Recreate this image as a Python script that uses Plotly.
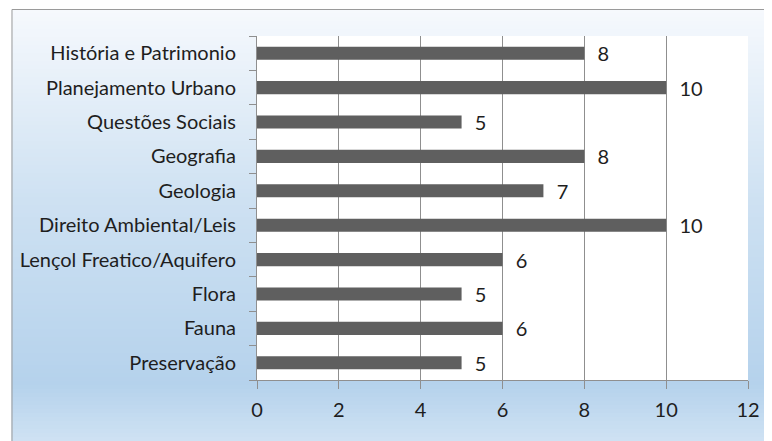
import plotly.graph_objects as go

categories = ["Preservação", "Fauna", "Flora", "Lençol Freatico/Aquifero",
              "Direito Ambiental/Leis", "Geologia", "Geografia",
              "Questões Sociais", "Planejamento Urbano", "História e Patrimonio"]
values = [5, 6, 5, 6, 10, 7, 8, 5, 10, 8]
x_ticks = [0, 2, 4, 6, 8, 10, 12]

# the page puts the figure 8px in from the top-left corner
OFF = 8
W, H = 772 - OFF, 441 - OFF
ML, MR, MT, MB = 256 - OFF, 20, 36 - OFF, 61
pw, ph = W - ML - MR, H - MT - MB


def px_to_paper(px, py):
    # px, py are page pixels
    return (px - OFF - ML) / pw, (H - MB - (py - OFF)) / ph


def lerp(c1, c2, t):
    return tuple(round(a + (b - a) * t) for a, b in zip(c1, c2))


# outer gradient panel (Excel-style), built from thin bands
stops = [(9, (246, 249, 253)), (200, (206, 225, 242)),
         (385, (181, 210, 236)), (441, (207, 226, 243))]
shapes = []
band = 4
for y0 in range(9, 441, band):
    y1 = min(y0 + band, 441)
    ym = (y0 + y1) / 2
    for (a, ca), (b, cb) in zip(stops, stops[1:]):
        if a <= ym <= b:
            col = lerp(ca, cb, (ym - a) / (b - a))
            break
    x0p, y0p = px_to_paper(8, y0)
    x1p, y1p = px_to_paper(775, y1)
    shapes.append(dict(type="rect", xref="paper", yref="paper",
                       x0=x0p, x1=x1p, y0=y1p, y1=y0p, layer="below",
                       line=dict(width=0), fillcolor="rgb(%d,%d,%d)" % col))
# frame border
bx0, by0 = px_to_paper(8.5, 9.5)
bx1, by1 = px_to_paper(780, 450)
shapes.append(dict(type="rect", xref="paper", yref="paper",
                   x0=bx0, x1=bx1, y0=by1, y1=by0, layer="below",
                   line=dict(color="#9a9a9a", width=1), fillcolor="rgba(0,0,0,0)"))
# white plot area
shapes.append(dict(type="rect", xref="paper", yref="paper", x0=0, x1=1, y0=0, y1=1,
                   layer="below", line=dict(width=0), fillcolor="white"))

fig = go.Figure(go.Bar(
    x=values, y=categories, orientation="h",
    marker=dict(color="#5f5f5f", line=dict(width=0)),
    width=0.38,
    text=values, texttemplate="\u00a0\u00a0%{x}",
    textposition="outside", cliponaxis=False,
    constraintext="none", textangle=0,
    outsidetextfont=dict(family="Lato", size=20, color="#1e1e1e"),
))

fig.update_layout(
    width=W, height=H,
    margin=dict(l=ML, r=MR, t=MT, b=MB),
    paper_bgcolor="white", plot_bgcolor="rgba(0,0,0,0)",
    font=dict(family="Lato", size=20, color="#1e1e1e"),
    shapes=shapes,
    showlegend=False,
)
fig.update_xaxes(range=[0, 12], tickvals=x_ticks, showgrid=True,
                 gridcolor="#8f8f8f", gridwidth=1,
                 showline=True, linecolor="#8f8f8f",
                 ticks="outside", ticklen=8, tickcolor="#8f8f8f",
                 ticklabelstandoff=4, zeroline=False)
fig.update_yaxes(categoryorder="array", categoryarray=categories,
                 showline=True, linecolor="#8f8f8f",
                 ticks="outside", ticklen=7, tickcolor="#8f8f8f",
                 tickson="boundaries", showgrid=False,
                 ticklabelstandoff=16)

fig.write_html("out.html")
